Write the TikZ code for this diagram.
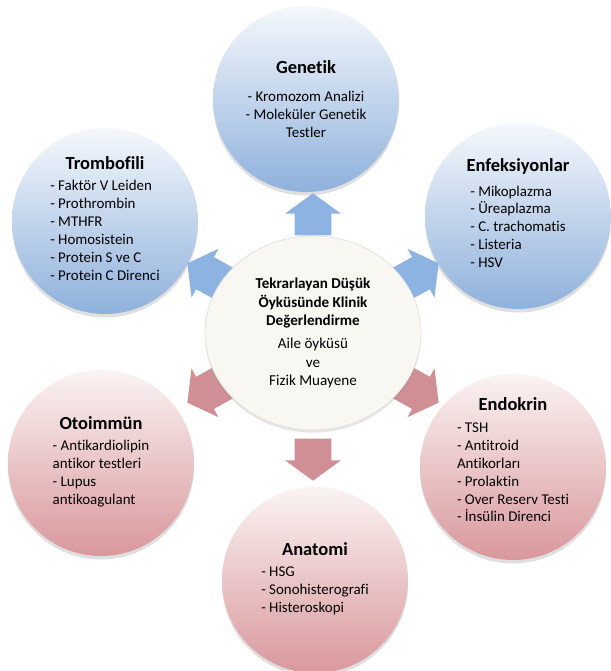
\documentclass[tikz,border=0pt]{standalone}
\usepackage{fontspec}
\setmainfont[Ligatures=NoCommon]{Carlito}
\usetikzlibrary{shapes.geometric,shapes.arrows,shadows}

\definecolor{bluebottom}{HTML}{8FB1DC}
\definecolor{bluetop}{HTML}{F5F8FC}
\definecolor{redbottom}{HTML}{D9989C}
\definecolor{redtop}{HTML}{FBF3F3}
\definecolor{bluearr}{HTML}{8DB3E2}
\definecolor{redarr}{HTML}{CF8F95}
\definecolor{midfill}{HTML}{F8F7F1}

\newcommand{\ttl}[1]{{\fontsize{10.5}{12.6}\selectfont\bfseries #1}}
\newcommand{\items}[1]{\begin{tabular}{@{}l@{}}#1\end{tabular}}

\tikzset{
  topic/.style={circle, minimum size=3.72cm, inner sep=0pt, align=center,
    font=\fontsize{8.5}{10.2}\selectfont,
    drop shadow={opacity=0.25, shadow xshift=0pt, shadow yshift=-2pt}},
  bluecircle/.style={topic, top color=bluetop, bottom color=bluebottom},
  redcircle/.style={topic, top color=redtop, bottom color=redbottom},
  bigarrow/.style={single arrow, minimum height=0.84cm, minimum width=1.1cm,
    inner xsep=0pt, inner ysep=0.36cm, single arrow head extend=0.19cm,
    single arrow tip angle=108},
  bluearrow/.style={bigarrow, fill=bluearr},
  redarrow/.style={bigarrow, fill=redarr},
}

\begin{document}
\begin{tikzpicture}
    \fill[white] (0,0) rectangle (12.22,13.42);
    \useasboundingbox (0,0) rectangle (12.22,13.42);
    \coordinate (m) at (6.26,6.76);
    % outer topics
    \node[bluecircle] (genetik) at (6.12,11.44) {\ttl{Genetik}\\[6pt]
        - Kromozom Analizi\\ - Moleküler Genetik\\ Testler};
    \node[bluecircle] (trombofili) at (2.10,9.00) {\ttl{Trombofili}\\[4pt]
        \items{- Faktör V Leiden\\ - Prothrombin\\ - MTHFR\\ - Homosistein\\ - Protein S ve C\\ - Protein C Direnci}};
    \node[bluecircle] (enfeksiyon) at (10.36,9.10) {\ttl{Enfeksiyonlar}\\[4pt]
        \items{- Mikoplazma\\ - Üreaplazma\\ - C. trachomatis\\ - Listeria\\ - HSV}};
    \node[redcircle] (otoimmun) at (2.02,4.16) {\ttl{Otoimmün}\\[4pt]
        \items{- Antikardiolipin\\ antikor testleri\\ - Lupus\\ antikoagulant}};
    \node[redcircle] (endokrin) at (10.26,4.08) {\ttl{Endokrin}\\[4pt]
        \items{- TSH\\ - Antitroid\\ Antikorları\\ - Prolaktin\\ - Over Reserv Testi\\ - İnsülin Direnci}\\[4pt]~};
    \node[redcircle] (anatomi) at (6.30,1.82) {\ttl{Anatomi}\\[4pt]
        \items{- HSG\\ - Sonohisterografi\\ - Histeroskopi}};
    % arrows
    \node[bluearrow, rotate=90] (a1) at ([shift={(90:2.24cm)}]m) {};
    \node[bluearrow, rotate=151] (a2) at ([shift={(151:2.32cm)}]m) {};
    \node[bluearrow, rotate=29] (a3) at ([shift={(29:2.32cm)}]m) {};
    \node[redarrow, rotate=209] (a4) at ([shift={(209:2.32cm)}]m) {};
    \node[redarrow, rotate=331] (a5) at ([shift={(331:2.32cm)}]m) {};
    \node[redarrow, rotate=270] (a6) at ([shift={(270:2.40cm)}]m) {};
    % centre
    \node[ellipse, minimum width=4.32cm, minimum height=3.88cm, inner sep=0pt,
        fill=midfill, draw=black!12, align=center,
        font=\fontsize{8.6}{10.4}\selectfont,
        drop shadow={opacity=0.2, shadow xshift=0pt, shadow yshift=-1.5pt}] (mid) at (m)
        {\textbf{Tekrarlayan Düşük}\\ \textbf{Öyküsünde Klinik}\\ \textbf{Değerlendirme}\\[3pt]
        Aile öyküsü\\ ve\\ Fizik Muayene};
\end{tikzpicture}
\end{document}
